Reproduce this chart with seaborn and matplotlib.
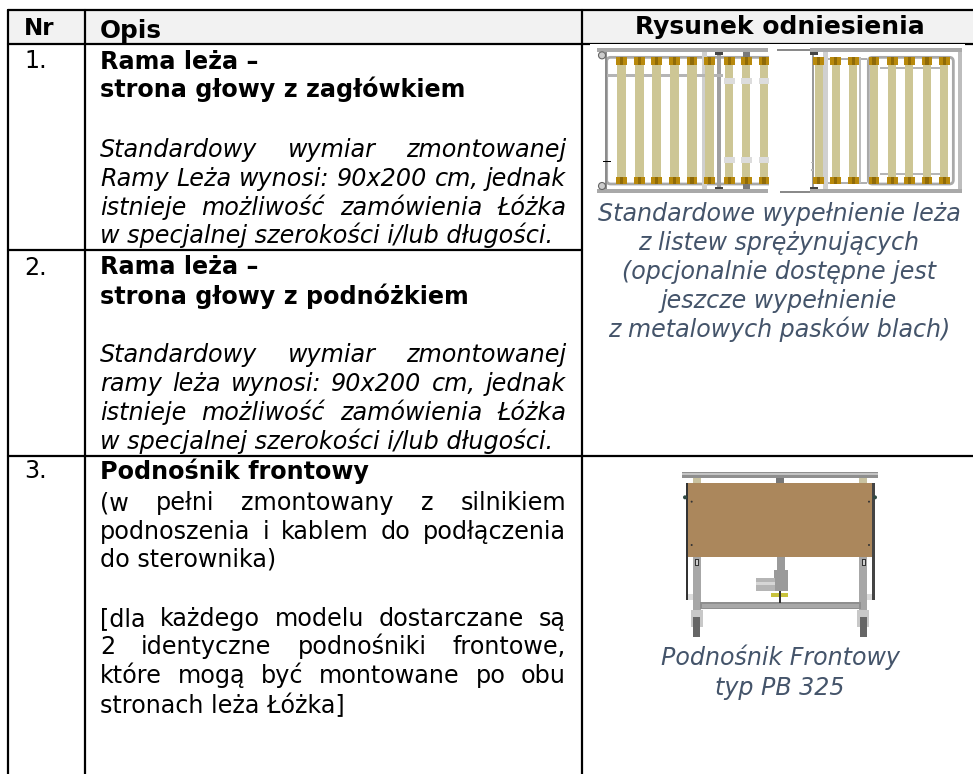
import matplotlib
matplotlib.use("Agg")
import matplotlib.pyplot as plt
from matplotlib.patches import Rectangle, FancyBboxPatch, Circle
import pandas as pd
import seaborn as sns

header_labels = ["Nr", "Opis", "Rysunek odniesienia"]
row_numbers = ["1.", "2.", "3."]
row1_title = ["Rama leża –", "strona głowy z zagłówkiem"]
row1_note = ["Standardowy wymiar zmontowanej", "Ramy Leża wynosi: 90x200 cm, jednak",
             "istnieje możliwość zamówienia Łóżka", "w specjalnej szerokości i/lub długości."]
row2_title = ["Rama leża –", "strona głowy z podnóżkiem"]
row2_note = ["Standardowy wymiar zmontowanej", "ramy leża wynosi: 90x200 cm, jednak",
             "istnieje możliwość zamówienia Łóżka", "w specjalnej szerokości i/lub długości."]
row3_title = ["Podnośnik frontowy"]
row3_body_a = ["(w pełni zmontowany z silnikiem", "podnoszenia i kablem do podłączenia", "do sterownika)"]
row3_body_b = ["[dla każdego modelu dostarczane są", "2 identyczne podnośniki frontowe,",
               "które mogą być montowane po obu", "stronach leża Łóżka]"]
caption_frame = ["Standardowe wypełnienie leża", "z listew sprężynujących",
                 "(opcjonalnie dostępne jest", "jeszcze wypełnienie", "z metalowych pasków blach)"]
caption_lift = ["Podnośnik Frontowy", "typ PB 325"]

# table rules in image pixels
rule_id = [0, 0, 1, 1, 2, 2, 3, 3, 4, 4, 5, 5, 6, 6]
rule_x = [8, 973, 8, 973, 8, 582, 8, 973, 8, 8, 85, 85, 582, 582]
rule_y = [10, 10, 44, 44, 250, 250, 456, 456, 10, 774, 10, 774, 10, 774]

BODY = 17.2
CAPTION = 17.15
SLATE = "#44546a"
GOLD = "#b8890c"
SLAT = "#cdc695"
STEEL = "#a9a9a9"

sns.set_theme(style="white")
plt.rcParams["font.family"] = ["DejaVu Sans"]

fig = plt.figure(figsize=(9.73, 7.74), dpi=100)
ax = fig.add_axes([0, 0, 1, 1])
ax.add_patch(Rectangle((8, 10), 965, 34, color="#f2f2f2", lw=0, zorder=0))

rules = pd.DataFrame({"rule": rule_id, "x": rule_x, "y": rule_y})
sns.lineplot(data=rules, x="x", y="y", units="rule", estimator=None, sort=False,
             color="black", lw=1.6, legend=False, ax=ax, zorder=1)
ax.set_xlim(0, 973)
ax.set_ylim(774, 0)
ax.set_axis_off()


def justified(line, y, x0=100, x1=566, **kw):
    words = line.split(" ")
    items = [ax.text(x0, y, w, **kw) for w in words]
    renderer = fig.canvas.get_renderer()
    widths = [t.get_window_extent(renderer).width for t in items]
    gap = (x1 - x0 - sum(widths)) / (len(words) - 1)
    x = x0
    for t, w in zip(items, widths):
        t.set_x(x)
        x += w + gap


def plain(lines, baselines, **kw):
    for line, y in zip(lines, baselines):
        ax.text(100, y, line, fontsize=BODY, color="black", **kw)


def note(lines, baselines, italic=True):
    style = "italic" if italic else "normal"
    for i, (line, y) in enumerate(zip(lines, baselines)):
        if i == len(lines) - 1:
            ax.text(100, y, line, fontsize=BODY, style=style, color="black")
        else:
            justified(line, y, fontsize=BODY, style=style, color="black")


# header
ax.text(24, 35, header_labels[0], fontsize=16.6, weight="bold", color="black")
ax.text(100, 38, header_labels[1], fontsize=17.8, weight="bold", color="black")
ax.text(780, 34, header_labels[2], fontsize=18, weight="bold", color="black", ha="center")

# numbers
for label, y in zip(row_numbers, [68, 275, 478]):
    ax.text(24, y, label, fontsize=BODY, color="black")

# description column
plain(row1_title, [69, 97], weight="bold")
note(row1_note, [157, 186, 215, 243])
plain(row2_title, [274, 304], weight="bold")
note(row2_note, [362, 391, 420, 449])
plain(row3_title, [479], weight="bold")
note(row3_body_a, [510, 539, 567], italic=False)
note(row3_body_b, [626, 654, 683, 713], italic=False)

# captions
for line, y in zip(caption_frame, [221, 250, 279, 308, 337]):
    ax.text(779, y, line, fontsize=CAPTION, style="italic", color=SLATE, ha="center")
for line, y in zip(caption_lift, [665, 695]):
    ax.text(780, y, line, fontsize=CAPTION, style="italic", color=SLATE, ha="center")


def box(ox, oy, x0, y0, x1, y1, color, z=3, **kw):
    # corners given in 3x zoom units of the crop starting at ox, oy
    ax.add_patch(Rectangle((ox + x0 / 3, oy + y0 / 3), (x1 - x0) / 3, (y1 - y0) / 3,
                           facecolor=color, lw=0, zorder=z, **kw))


# slatted frame drawing
fx, fy = 590, 0
ax.add_patch(Rectangle((590, 44), 375, 2, color="white", lw=0, zorder=2))
for x0, x1 in [(22, 535), (660, 1117)]:
    box(fx, fy, x0, 143, x1, 155, STEEL)
for x0, x1 in [(22, 535), (660, 1117)]:
    box(fx, fy, x0, 568, x1, 580, STEEL)
box(fx, fy, 560, 148, 660, 152, "#8a8a8a", z=4)
box(fx, fy, 570, 574, 660, 578, "#8a8a8a", z=4)

# inner tubes
for x0, x1 in [(50, 640), (835, 1090)]:
    w = (x1 - x0) / 3
    ax.add_patch(FancyBboxPatch((fx + x0 / 3 + 4, 172 / 3 + 4), w - 8, 380 / 3 - 8,
                                boxstyle="round,pad=4", fc="none", ec=STEEL, lw=2, zorder=3))
box(fx, fy, 537, 160, 664, 562, "white", z=3.5)
box(fx, fy, 673, 174, 830, 180, "#b0b0b0")
box(fx, fy, 673, 546, 830, 552, "#b0b0b0")
box(fx, fy, 44, 155, 50, 568, "#8c8c8c")
box(fx, fy, 665, 155, 673, 568, "#9a9a9a")
box(fx, fy, 700, 155, 714, 568, "#d0d0d0")
box(fx, fy, 806, 172, 814, 550, "#bdbdbd")
box(fx, fy, 1104, 155, 1116, 568, "#bdbdbd")
box(fx, fy, 336, 155, 350, 568, "#cfcfcf")
box(fx, fy, 382, 155, 394, 568, "#9f9f9f")
box(fx, fy, 460, 155, 480, 172, "#7a7a7a")
box(fx, fy, 460, 552, 480, 568, "#7a7a7a")
box(fx, fy, 50, 222, 400, 230, "#b5b5b5")
box(fx, fy, 870, 200, 1055, 208, "#b5b5b5")
box(fx, fy, 870, 518, 1055, 526, "#b5b5b5")
box(fx, fy, 40, 482, 64, 486, "black", z=6)
box(fx, fy, 637, 486, 668, 490, "#bbbbbb")
box(fx, fy, 637, 508, 668, 512, "#bbbbbb")
for cx, cy in [(36, 166), (36, 558)]:
    ax.add_patch(Circle((fx + cx / 3, cy / 3), 3.5, fc="#cccccc", ec="#666666", lw=0.8, zorder=5))
for cx, cy in [(386, 160), (386, 564), (672, 160), (672, 564)]:
    ax.add_patch(Rectangle((fx + cx / 3 - 4, cy / 3 - 1), 8, 2.2, color="#444444", lw=0, zorder=5))

left_slats = [95, 148, 200, 253, 306, 358, 418, 469, 522]
right_slats = [686, 737, 790, 852, 907, 958, 1011, 1063]
for i, cx in enumerate(left_slats + right_slats):
    half = 14 if i < 6 else 12
    box(fx, fy, cx - half, 190, cx + half, 535, SLAT, z=5)
    box(fx, fy, cx - 16, 172, cx + 16, 194, GOLD, z=6)
    box(fx, fy, cx - 16, 530, cx + 16, 552, GOLD, z=6)
    box(fx, fy, cx - 5, 172, cx + 5, 194, "#8f6a08", z=7)
    box(fx, fy, cx - 5, 530, cx + 5, 552, "#8f6a08", z=7)
for cx in left_slats[6:]:
    for y0 in [235, 471]:
        box(fx, fy, cx - 16, y0, cx + 16, y0 + 18, "#dcdcdc", z=6)

# lift drawing, crop units from the 3x view at (670, 470)
lx, ly = 670, 470
box(lx, ly, 37, 5, 625, 23, "#8f8f8f")
box(lx, ly, 37, 10, 625, 16, "#c4c4c4", z=4)
box(lx, ly, 68, 23, 92, 38, "#c9c2a0")
box(lx, ly, 568, 23, 592, 38, "#c9c2a0")
box(lx, ly, 318, 23, 343, 38, "#777777")
box(lx, ly, 55, 38, 605, 260, "#ab875c", z=5)
box(lx, ly, 47, 38, 55, 390, "#333333")
box(lx, ly, 605, 38, 615, 390, "#444444")
box(lx, ly, 68, 260, 93, 420, "#a7a7a7")
box(lx, ly, 568, 260, 592, 420, "#a7a7a7")
box(lx, ly, 90, 397, 572, 418, "#8f8f8f")
box(lx, ly, 95, 401, 568, 414, "#a8a8a8", z=4)
box(lx, ly, 320, 260, 345, 302, "#9a9a9a")
box(lx, ly, 312, 300, 353, 362, "#9a9a9a")
box(lx, ly, 257, 323, 315, 362, "#b5b5b5")
box(lx, ly, 257, 335, 315, 345, "#d6d6d6", z=4)
box(lx, ly, 303, 370, 353, 382, "#c8c23c")
box(lx, ly, 328, 362, 332, 398, "#333333")
box(lx, ly, 75, 268, 87, 288, "#333333")
box(lx, ly, 78, 271, 84, 285, "#cccccc", z=4)
box(lx, ly, 575, 268, 587, 288, "#333333")
box(lx, ly, 578, 271, 584, 285, "#cccccc", z=4)
box(lx, ly, 55, 373, 70, 390, "#dcdcdc")
box(lx, ly, 592, 373, 605, 390, "#dcdcdc")
for cx in [80, 580]:
    box(lx, ly, cx - 18, 420, cx + 18, 470, "#c8c8c8")
    box(lx, ly, cx - 11, 440, cx + 11, 500, "#666666", z=4)
for cx, cy in [(65, 95), (65, 225), (597, 95), (597, 225)]:
    ax.add_patch(Circle((lx + cx / 3, ly + cy / 3), 1, color="#333333", lw=0, zorder=6))
for cx, cy in [(45, 82), (615, 82)]:
    ax.add_patch(Circle((lx + cx / 3, ly + cy / 3), 2, color="#2f4a44", lw=0, zorder=6))

fig.savefig("out.png", dpi=100)
